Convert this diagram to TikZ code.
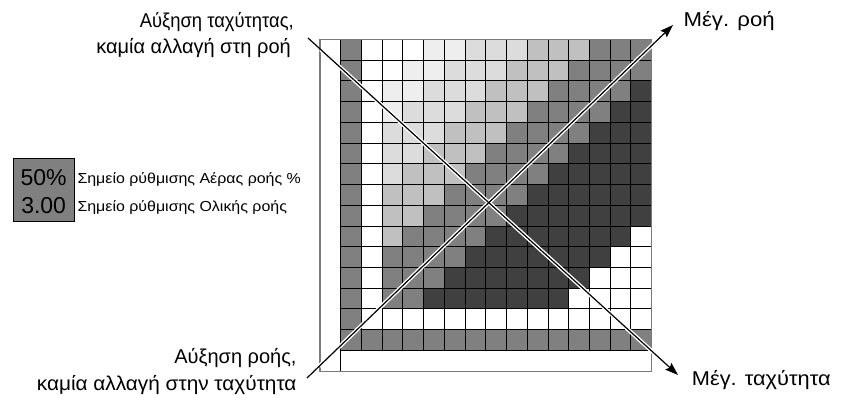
\documentclass[tikz,border=0pt]{standalone}
\usepackage{fontspec}
\setmainfont{Liberation Sans}
\usetikzlibrary{arrows.meta}
\definecolor{lv0}{HTML}{FFFFFF}
\definecolor{lv1}{HTML}{EEEEEE}
\definecolor{lv2}{HTML}{DCDCDC}
\definecolor{lv3}{HTML}{C0C0C0}
\definecolor{lv4}{HTML}{808080}
\definecolor{lv5}{HTML}{404040}
\definecolor{framegray}{HTML}{7A7A7A}
\begin{document}
\begin{tikzpicture}[x=1pt,y=-1pt,
  cellline/.style={black, line width=1pt},
  frameline/.style={framegray, line width=1.3pt},
  halo/.style={white, line width=4pt, line cap=butt},
  arrowline/.style={black, line width=1.2pt, -{Stealth[length=13pt,width=9pt,inset=2pt]}},
  biglabel/.style={inner sep=0pt, font=\fontsize{20}{24}\selectfont},
  stretched/.style={font=\fontsize{20}{24}\selectfont\addfontfeatures{FakeStretch=#1}},
  smalllabel/.style={inner sep=0pt, font=\fontsize{14.5}{17}\selectfont\addfontfeatures{FakeStretch=1.1}},
  boxlabel/.style={inner sep=0pt, font=\fontsize{23}{27}\selectfont}]
\useasboundingbox (0,0) rectangle (842,395);
\def\a{20.73}
\def\X{340.73}
\def\Y{39.5}
% cells
\foreach \r in {0,...,14}{
  \foreach \c in {0,...,14}{
    \pgfmathtruncatemacro\s{\c+\r}
    \pgfmathtruncatemacro\lvl{(\c==0 || \r==14) ? 4 : ((\r==13 || \c==1) ? 0 : ((\s<=3) ? 0 : ((\s<=5) ? 1 : ((\s<=8) ? 2 : ((\s<=11) ? 3 : ((\s<=15) ? 4 : ((\s<=22) ? 5 : 0)))))))}
    \fill[lv\lvl] ({\X+\c*\a},{\Y+\r*\a}) rectangle ++(\a,\a);
  }
}
% grid lines
\foreach \i in {0,...,15}{
  \draw[cellline] ({\X+\i*\a},\Y) -- ({\X+\i*\a},{\Y+15*\a});
  \draw[cellline] (\X,{\Y+\i*\a}) -- ({\X+15*\a},{\Y+\i*\a});
}
\draw[cellline] (\X,{\Y+15*\a}) -- (\X,{\Y+16*\a});
% outer frame
\draw[frameline] ({\X-\a},\Y) rectangle ({\X+15*\a},{\Y+16*\a});
% diagonal arrows
\coordinate (s1) at (308,38);
\coordinate (e1) at (678,375);
\coordinate (s2) at (307,378);
\coordinate (e2) at (673,25);
\draw[halo, shorten <=17pt, shorten >=14pt] (s1) -- (e1);
\draw[halo, shorten <=17pt, shorten >=14pt] (s2) -- (e2);
\draw[arrowline] (s1) -- (e1);
\draw[arrowline] (s2) -- (e2);
% corner labels
\node[biglabel, stretched=0.92, anchor=base east] (tl1) at (294,27.7) {Αύξηση ταχύτητας,};
\node[biglabel, anchor=base east] (tl2) at (291,53.3) {καμία αλλαγή στη ροή};
\node[biglabel, anchor=base east] (bl1) at (296.7,363.3) {Αύξηση ροής,};
\node[biglabel, stretched=1.04, anchor=base east] (bl2) at (296.7,390) {καμία αλλαγή στην ταχύτητα};
\node[biglabel, stretched=1.11, anchor=base west] (tr) at (683.3,26.7) {Μέγ. ροή};
\node[biglabel, stretched=1.09, anchor=base west] (br) at (691.7,385) {Μέγ. ταχύτητα};
% setpoint box
\node[draw=black, fill=lv4, line width=0.8pt, minimum width=60.7pt, minimum height=62.7pt, inner sep=0pt] (box) at (43.65,189.65) {};
\node[boxlabel, anchor=base] (v1) at (43.65,185.7) {50\%};
\node[boxlabel, anchor=base] (v2) at (43.65,213.3) {3.00};
\node[smalllabel, anchor=base west] (d1) at (77.3,183.3) {Σημείο ρύθμισης Αέρας ροής \%};
\node[smalllabel, anchor=base west] (d2) at (77.3,211.7) {Σημείο ρύθμισης Ολικής ροής};
\end{tikzpicture}
\end{document}
